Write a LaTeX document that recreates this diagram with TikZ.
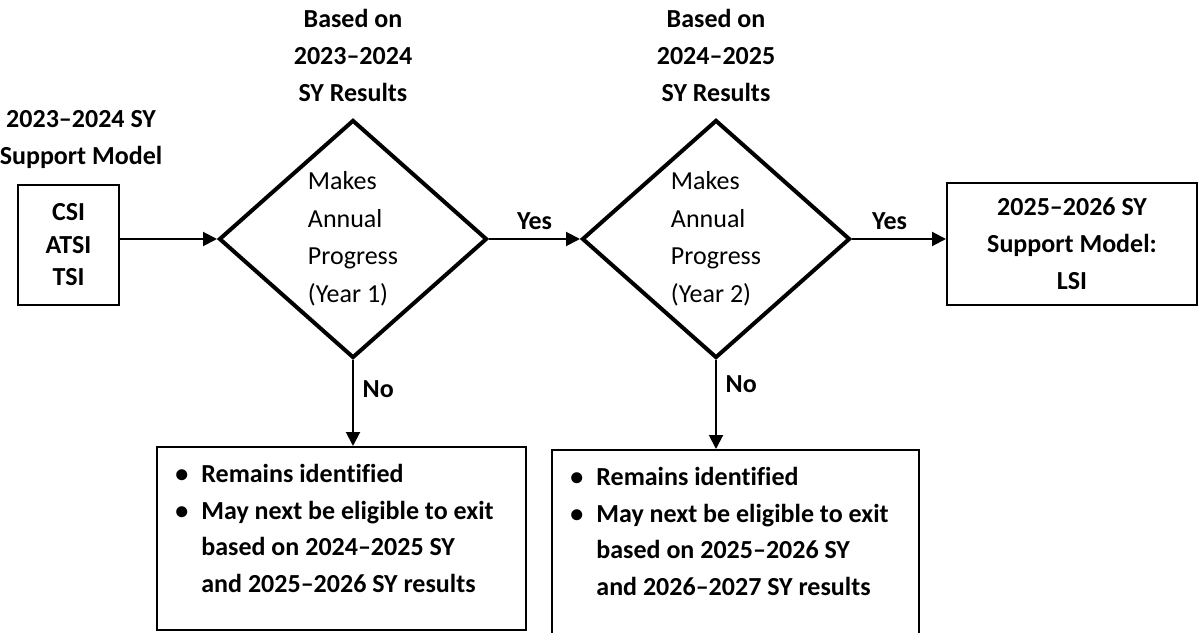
\documentclass[tikz,border=0pt]{standalone}
\usepackage{fontspec}
\setmainfont{Carlito}[Ligatures={TeX,NoCommon}]
\usetikzlibrary{shapes.geometric,arrows.meta}

\newcommand{\dotitem}{\makebox[13pt][l]{\textbullet}}

\begin{document}
\begin{tikzpicture}[x=0.5pt,y=0.5pt,
  box/.style={draw,line width=1pt,inner sep=0pt},
  decision/.style={draw,diamond,line width=2pt,inner sep=0pt,minimum width=134pt,minimum height=119pt,align=left,font=\fontsize{13}{18.75}\selectfont},
  heading/.style={align=center,font=\fontsize{13}{18.5}\selectfont\bfseries},
  bullets/.style={anchor=north west,inner sep=0pt,align=left,font=\fontsize{13}{18.25}\selectfont\bfseries},
  arr/.style={line width=1pt,-{Triangle[length=7pt,width=7pt]}},
  lbl/.style={font=\fontsize{13}{15}\selectfont\bfseries}]
\useasboundingbox (0,0) rectangle (1198,632);
\node[heading] (srctitle) at (81,492) {2023--2024 SY\\Support Model};
\node[box,minimum width=50.5pt,minimum height=60pt,align=center,font=\fontsize{13}{16.25}\selectfont\bfseries] (src) at (68.5,387) {CSI\\ATSI\\TSI};
\node[heading] (d1title) at (353,577) {Based on\\2023--2024\\SY Results};
\node[decision] (d1) at (353,393) {Makes\\Annual\\Progress\\(Year 1)};
\node[heading] (d2title) at (716,577) {Based on\\2024--2025\\SY Results};
\node[decision] (d2) at (716,393) {Makes\\Annual\\Progress\\(Year 2)};
\node[box,minimum width=125pt,minimum height=61pt,align=center,font=\fontsize{13}{18.5}\selectfont\bfseries] (tgt) at (1072,388) {2025--2026 SY\\Support Model:\\LSI};
\node[box,minimum width=184.5pt,minimum height=91.5pt] (b1) at (341.5,93.5) {};
\node[box,minimum width=183.5pt,minimum height=95pt] (b2) at (735.5,87) {};
\node[bullets] (t1) at ([xshift=9.5pt,yshift=-9pt]b1.north west) {\dotitem Remains identified\\\dotitem May next be eligible to exit\\\hspace*{13pt}based on 2024--2025 SY\\\hspace*{13pt}and 2025--2026 SY results};
\node[bullets] (t2) at ([xshift=9.5pt,yshift=-9pt]b2.north west) {\dotitem Remains identified\\\dotitem May next be eligible to exit\\\hspace*{13pt}based on 2025--2026 SY\\\hspace*{13pt}and 2026--2027 SY results};
\draw[arr] (d1.west -| src.east) -- (d1.west);
\draw[arr] (d1.east) -- node[lbl,above=1pt] (yes1) {Yes} (d2.west);
\draw[arr] (d2.east) -- node[lbl,above=1pt,pos=0.4] (yes2) {Yes} (d2.east -| tgt.west);
\draw[arr] (d1.south) -- node[lbl,right=1pt,pos=0.34] (no1) {No} (d1.south |- b1.north);
\draw[arr] (d2.south) -- node[lbl,right=1pt,pos=0.27] (no2) {No} (d2.south |- b2.north);
\end{tikzpicture}
\end{document}
